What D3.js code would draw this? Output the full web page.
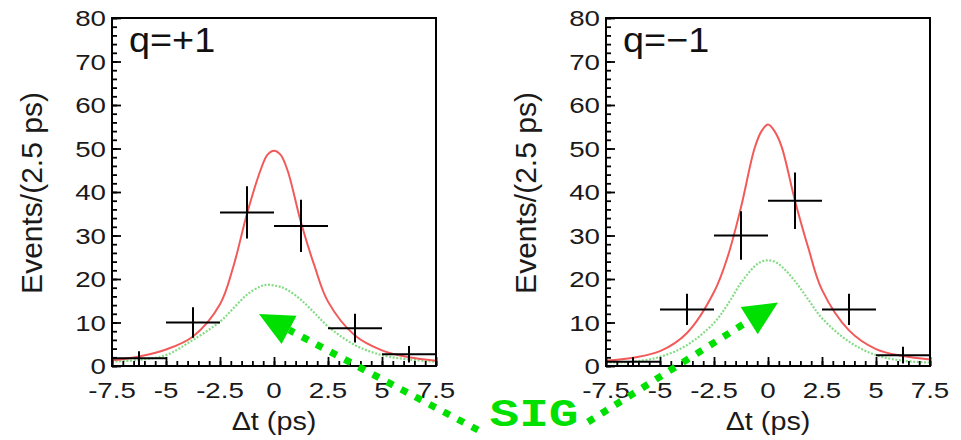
<!DOCTYPE html>
<html>
<head>
<meta charset="utf-8">
<script src="https://cdn.jsdelivr.net/npm/d3@7"></script>
<style>
  body { margin: 0; background: #fff; }
  svg { display: block; }
</style>
</head>
<body>
<svg id="chart" width="961" height="440"></svg>
<script>
// Δt distributions for the two charge states, 2.5 ps bins
const binWidth = 2.5;
const binCenters = [-6.25, -3.75, -1.25, 1.25, 3.75, 6.25];

const countsPlus  = [1.8, 10.0, 35.3, 32.2, 8.7, 2.7];
const errorsPlus  = [1.6, 3.5, 6.0, 6.0, 3.3, 1.9];
const countsMinus = [1.0, 13.0, 30.0, 38.0, 13.0, 2.5];
const errorsMinus = [1.0, 3.6, 5.6, 6.5, 3.6, 1.9];

// fit projections sampled along Δt
const tSamples      = [-7.5, -6.25, -5, -3.75, -2.5, -1.875, -1.25, -0.625, -0.3, 0, 0.3, 0.625, 1.25, 1.875, 2.5, 3.75, 5, 6.25, 7.5];
const totalFitPlus  = [1.3, 2.2, 3.8, 6.8, 14.2, 23.0, 35.0, 45.0, 48.6, 49.5, 48.6, 45.0, 33.0, 23.0, 14.8, 7.0, 3.6, 2.0, 1.2];
const sigFitPlus    = [1.0, 1.4, 2.5, 6.0, 10.2, 13.3, 16.4, 18.3, 18.7, 18.5, 18.2, 17.5, 15.2, 12.2, 9.1, 4.8, 2.5, 1.5, 1.0];
const totalFitMinus = [1.2, 1.9, 3.4, 7.6, 17.0, 25.0, 36.5, 50.0, 54.0, 55.5, 54.0, 50.5, 38.0, 27.0, 17.5, 8.2, 3.9, 2.3, 1.5];
const sigFitMinus   = [0.8, 1.0, 2.1, 4.8, 9.9, 14.1, 19.1, 22.9, 24.0, 24.3, 24.0, 22.9, 19.5, 15.2, 11.0, 5.6, 2.5, 1.2, 0.8];

const panelLabels = ["q=+1", "q=\u22121"];
const xTickValues = [-7.5, -5, -2.5, 0, 2.5, 5, 7.5];
const xTickLabels = ["-7.5", "-5", "-2.5", "0", "2.5", "5", "7.5"];
const yTickValues = [0, 10, 20, 30, 40, 50, 60, 70, 80];
const xMinorTicks = d3.range(-7.5, 7.51, 0.5);
const yMinorTicks = d3.range(0, 80.1, 2);
const xTitle = "\u0394t (ps)";
const yTitle = "Events/(2.5 ps)";
const annotationText = "SIG";

const panels = [
  { label: panelLabels[0], counts: countsPlus,  errors: errorsPlus,  total: totalFitPlus,  sig: sigFitPlus },
  { label: panelLabels[1], counts: countsMinus, errors: errorsMinus, total: totalFitMinus, sig: sigFitMinus }
];

// layout
const frames = [{ left: 112, right: 436 }, { left: 606, right: 930 }];
const plotTop = 18, plotBottom = 366;
const FONT = "'Liberation Sans', Arial, Helvetica, sans-serif";
const RED = "#f25a5a", LIGHT_GREEN = "#86dc86", ARROW_GREEN = "#00e000";

const svg = d3.select("#chart");

panels.forEach((p, i) => {
  const f = frames[i];
  const x = d3.scaleLinear().domain([-7.5, 7.5]).range([f.left, f.right]);
  const y = d3.scaleLinear().domain([0, 80]).range([plotBottom, plotTop]);
  const g = svg.append("g");

  const clipId = "clip" + i;
  svg.append("clipPath").attr("id", clipId)
    .append("rect").attr("x", f.left).attr("y", plotTop)
    .attr("width", f.right - f.left).attr("height", plotBottom - plotTop);

  const plot = g.append("g").attr("clip-path", `url(#${clipId})`);
  const line = d3.line()
    .x((d, k) => x(tSamples[k]))
    .y(d => y(d))
    .curve(d3.curveCatmullRom.alpha(0.5));

  // signal component (dotted) and total fit
  plot.append("path").datum(p.sig)
    .attr("d", line).attr("fill", "none")
    .attr("stroke", LIGHT_GREEN).attr("stroke-width", 2.2)
    .attr("stroke-dasharray", "2,1.6");
  plot.append("path").datum(p.total)
    .attr("d", line).attr("fill", "none")
    .attr("stroke", RED).attr("stroke-width", 2);

  // data points with error bars
  const pts = plot.selectAll("g.pt").data(binCenters.map((c, k) => ({ c, v: p.counts[k], e: p.errors[k] })))
    .join("g").attr("class", "pt");
  pts.append("line")
    .attr("x1", d => x(d.c - binWidth / 2)).attr("x2", d => x(d.c + binWidth / 2))
    .attr("y1", d => y(d.v)).attr("y2", d => y(d.v))
    .attr("stroke", "#000").attr("stroke-width", 2);
  pts.append("line")
    .attr("x1", d => x(d.c)).attr("x2", d => x(d.c))
    .attr("y1", d => y(Math.max(0, d.v - d.e))).attr("y2", d => y(d.v + d.e))
    .attr("stroke", "#000").attr("stroke-width", 2);

  // ticks on the inside of the frame
  const yMajor = g.append("g").attr("transform", `translate(${f.left},0)`)
    .call(d3.axisLeft(y).tickValues(yTickValues).tickSize(-9).tickFormat(""));
  const yMinor = g.append("g").attr("transform", `translate(${f.left},0)`)
    .call(d3.axisLeft(y).tickValues(yMinorTicks).tickSize(-5).tickFormat(""));
  const xMajor = g.append("g").attr("transform", `translate(0,${plotBottom})`)
    .call(d3.axisBottom(x).tickValues(xTickValues).tickSize(-9).tickFormat(""));
  const xMinor = g.append("g").attr("transform", `translate(0,${plotBottom})`)
    .call(d3.axisBottom(x).tickValues(xMinorTicks).tickSize(-5).tickFormat(""));
  [yMajor, yMinor, xMajor, xMinor].forEach(a => {
    a.select(".domain").remove();
    a.selectAll(".tick line").attr("stroke", "#000").attr("stroke-width", 1.8);
  });

  // frame
  g.append("rect")
    .attr("x", f.left).attr("y", plotTop)
    .attr("width", f.right - f.left).attr("height", plotBottom - plotTop)
    .attr("fill", "none").attr("stroke", "#000").attr("stroke-width", 2);

  // tick labels
  g.selectAll("text.ylab").data(yTickValues).join("text").attr("class", "ylab")
    .attr("transform", d => `translate(${f.left - 6},${y(d) + 8}) scale(1.26,1)`)
    .attr("text-anchor", "end").attr("font-family", FONT).attr("font-size", 22)
    .attr("fill", "#1a1a1a").text(d => d);
  g.selectAll("text.xlab").data(xTickValues).join("text").attr("class", "xlab")
    .attr("transform", d => `translate(${x(d)},${plotBottom + 32}) scale(1.26,1)`)
    .attr("text-anchor", "middle").attr("font-family", FONT).attr("font-size", 22)
    .attr("fill", "#1a1a1a").text((d, k) => xTickLabels[k]);

  // axis titles
  g.append("text")
    .attr("transform", `translate(${x(0)},${plotBottom + 64}) scale(1.15,1)`)
    .attr("text-anchor", "middle").attr("font-family", FONT).attr("font-size", 25)
    .attr("fill", "#1a1a1a").text(xTitle);
  g.append("text")
    .attr("transform", `translate(${f.left - 70},${(plotTop + plotBottom) / 2 + 1}) rotate(-90)`)
    .attr("text-anchor", "middle").attr("font-family", FONT).attr("font-size", 30)
    .attr("fill", "#1a1a1a").text(yTitle);

  // panel label
  g.append("text")
    .attr("transform", `translate(${f.left + 17},${plotTop + 34}) scale(1.08,1)`)
    .attr("font-family", FONT).attr("font-size", 35)
    .attr("fill", "#111").text(p.label);
});

// "SIG" annotation with dotted arrows pointing at each signal peak
const sigAnchor = { x: 534, y: 426 };
const arrows = [
  { from: [478, 430], tip: [259, 314] },
  { from: [588, 422], tip: [778, 302.5] }
];
const ann = svg.append("g");
arrows.forEach(a => {
  const dx = a.tip[0] - a.from[0], dy = a.tip[1] - a.from[1];
  const len = Math.hypot(dx, dy);
  const ux = dx / len, uy = dy / len;
  const headLen = 34, headHalf = 16;
  const base = [a.tip[0] - ux * headLen, a.tip[1] - uy * headLen];
  ann.append("line")
    .attr("x1", a.from[0]).attr("y1", a.from[1])
    .attr("x2", base[0]).attr("y2", base[1])
    .attr("stroke", ARROW_GREEN).attr("stroke-width", 7)
    .attr("stroke-dasharray", "7,9");
  const px = -uy, py = ux;
  ann.append("path")
    .attr("d", `M${a.tip[0]},${a.tip[1]} L${base[0] + px * headHalf},${base[1] + py * headHalf} L${base[0] - px * headHalf},${base[1] - py * headHalf} Z`)
    .attr("fill", ARROW_GREEN);
});
ann.append("text")
  .attr("transform", `translate(${sigAnchor.x},${sigAnchor.y}) scale(1.3,1)`)
  .attr("text-anchor", "middle")
  .attr("font-family", "'Liberation Mono', 'Courier New', monospace")
  .attr("font-weight", "bold").attr("font-size", 38)
  .attr("fill", ARROW_GREEN).text(annotationText);
</script>
</body>
</html>
